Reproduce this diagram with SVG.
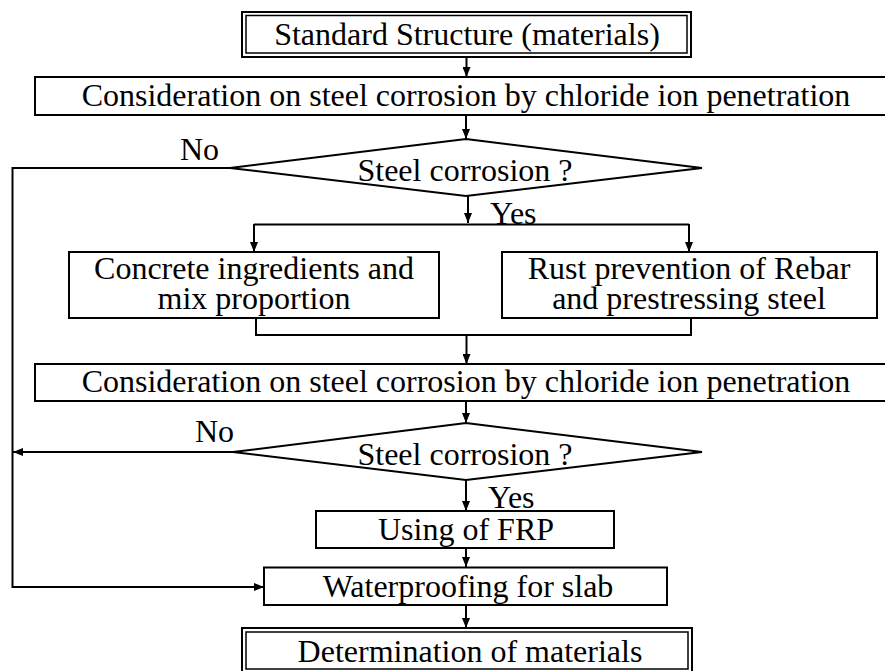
<svg xmlns="http://www.w3.org/2000/svg" width="885" height="671" viewBox="0 0 885 671">
<style>
.box{fill:#fff;stroke:#000;stroke-width:2}
.inner{fill:none;stroke:#000;stroke-width:1.5}
.t{font-family:"Liberation Serif","Times New Roman",serif;font-size:32px;fill:#000}
.m{text-anchor:middle}
.c{fill:none;stroke:#000;stroke-width:2}
</style>
<defs>
<marker id="ah" markerWidth="10" markerHeight="8" refX="10" refY="4" orient="auto" markerUnits="userSpaceOnUse">
<path d="M0,0 L10,4 L0,8 z" fill="#000"/>
</marker>
</defs>
<rect width="885" height="671" fill="#fff"/>
<g id="connectors">
<path class="c" d="M466.5,57 V77" marker-end="url(#ah)"/>
<path class="c" d="M466,115 V139" marker-end="url(#ah)"/>
<path class="c" d="M468,196 V223" marker-end="url(#ah)"/>
<path class="c" d="M254,224.5 H689"/>
<path class="c" d="M254,224 V252" marker-end="url(#ah)"/>
<path class="c" d="M689,224 V252" marker-end="url(#ah)"/>
<path class="c" d="M256,318 V335 H691 V318"/>
<path class="c" d="M466.5,335 V364" marker-end="url(#ah)"/>
<path class="c" d="M466,401 V423" marker-end="url(#ah)"/>
<path class="c" d="M466,480 V511" marker-end="url(#ah)"/>
<path class="c" d="M466,548 V567" marker-end="url(#ah)"/>
<path class="c" d="M466,605 V628" marker-end="url(#ah)"/>
<path class="c" d="M230,168 H12.5 V587 H264" marker-end="url(#ah)"/>
<path class="c" d="M233,452 H13" marker-end="url(#ah)"/>
<text class="t" x="180" y="160">No</text>
<text class="t" x="490" y="224">Yes</text>
<text class="t" x="195" y="442">No</text>
<text class="t" x="488" y="508">Yes</text>
</g>
<g id="start">
<rect class="box" x="242" y="12" width="449" height="45"/>
<rect class="inner" x="246" y="15.5" width="441" height="37.5"/>
<text class="t m" x="467" y="45">Standard Structure (materials)</text>
</g>
<g id="consideration1">
<rect class="box" x="35" y="77" width="852" height="38"/>
<text class="t m" x="466" y="106">Consideration on steel corrosion by chloride ion penetration</text>
</g>
<g id="decision1">
<polygon class="box" points="466,139 702,168 466,196 230,168"/>
<text class="t m" x="465" y="181">Steel corrosion ?</text>
</g>
<g id="concrete">
<rect class="box" x="69" y="252" width="370" height="66"/>
<text class="t m" x="254" y="279">Concrete ingredients and</text>
<text class="t m" x="254" y="309">mix proportion</text>
</g>
<g id="rust">
<rect class="box" x="502" y="252" width="375" height="66"/>
<text class="t m" x="689" y="279">Rust prevention of Rebar</text>
<text class="t m" x="689" y="309">and prestressing steel</text>
</g>
<g id="consideration2">
<rect class="box" x="35" y="364" width="852" height="37"/>
<text class="t m" x="466" y="392">Consideration on steel corrosion by chloride ion penetration</text>
</g>
<g id="decision2">
<polygon class="box" points="466,423 702,452 466,480 233,452"/>
<text class="t m" x="465" y="465">Steel corrosion ?</text>
</g>
<g id="frp">
<rect class="box" x="316" y="511" width="298" height="37"/>
<text class="t m" x="466" y="540">Using of FRP</text>
</g>
<g id="waterproofing">
<rect class="box" x="264" y="567.5" width="403" height="37.5"/>
<text class="t m" x="468" y="597">Waterproofing for slab</text>
</g>
<g id="end">
<rect class="box" x="242" y="628" width="450" height="46"/>
<rect class="inner" x="246" y="632" width="442" height="37"/>
<text class="t m" x="470" y="662">Determination of materials</text>
</g>
</svg>
